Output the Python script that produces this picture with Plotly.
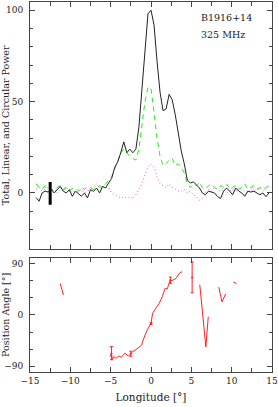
import numpy as np
import plotly.graph_objects as go
from plotly.subplots import make_subplots

# ---------------- data ----------------
lon = [-14.25 + 0.375 * k for k in range(78)]  # longitude grid [deg]

total = [-2.5, -4.5, 0, 1, 0.5, 2, 0, 1.8, 3.6, 1, 0, 1.8, -1.8, 1, -0.5, -1.8,
         0, -2.7, 1.8, 0.9, 2.7, 0, 3.6, 2.7, 5.5, 8, 14, 17, 22, 28, 22, 24,
         22, 24, 36, 57, 80, 98, 100, 92, 72, 55, 45, 46, 54, 51, 43, 32,
         23, 16, 7, 5.5, 6, 4.5, 2.7, 0, -1, 1, 0.5, 0, -2, -3, 1, 2.7,
         1, -1, 2.7, 1, 0, -1.8, 1, 0.5, 1, 0, -1, 0, -2, 0]

linear = [5, 3, 2, 4, 3, 2, 1, 3, 4, 2, 3, 1, 2.5, 3, 1, 3,
          2, 3.5, 3, 2, 3, 4, 3, 5, 7, 9, 13, 18, 22, 24, 22, 20,
          19, 18, 24, 36, 50, 58, 57, 44, 30, 20, 15, 16, 18, 19, 15, 16,
          14, 11, 5, 3, 5, 4, 6, 3, 2, 4, 5, 3, 2, 4, 3, 5,
          2, 3, 4, 2, 3, 5, 2, 3, 4, 2, 3, 2, 3, 4]

circular = [2, 3, 1, 2, 3, 1, 2, 0, 2, 1, 3, 1, 2, 0, 1, 2,
            0, 1, 3, 2, 5, 3, 2, 4, 3, 0, -1, -2, -3, -2, -3, -2,
            -3, -1, 2, 5, 10, 14, 16, 14, 9, 5, 4, 3, 5, 3, 2, 1,
            1, 2, 0, 1, -1, -2, -4, -3, 0, 2, 1, 3, 2, 1, 2, 0,
            1, 2, 1, 3, 2, 1, 0, 2, 1, 2, 3, 1, 2, 3]

# position angle (None separates unconnected segments)
pa_lon = [-11.25, -10.85, None,
          -5.1, -4.9, -4.8, -4.6, -4.33, -4.0, -3.67, -3.25, -2.8, -2.5, -2.25,
          -1.9, -1.5, -1.17, -0.9, -0.46, 0.0, 0.2, 0.6, 1.0, 1.4, 1.75, 2.0,
          2.35, 2.7, 3.1, 3.5, 3.85, None,
          6.05, 6.8, 7.1, None,
          8.4, 8.8, 9.25, None,
          10.2, 10.6]
pa = [55, 35, None,
      -73, -67, -78, -73, -76, -72, -74, -67, -72, -67, -64,
      -61, -56, -53, -41, -26, -15, 3, 12, 20, 32, 47, 45,
      60, 61, 64, 73, 76, None,
      53, -56, -3, None,
      49, 23, 37, None,
      58, 55]

err_lon = [-4.9, -2.5, 0.0, 2.4, 5.1]
err_pa = [-67, -68, -15, 61, 66]
err_size = [11.5, 4.5, 1.5, 5.5, 27]

bar_lon = [-12.5, -12.5]
bar_val = [-6.5, 6]

# ---------------- figure ----------------
FONT = "DejaVu Serif"
AX = "#444444"
TXT = "#222222"
fig = make_subplots(rows=2, cols=1, shared_xaxes=False, vertical_spacing=0.0)

fig.add_trace(go.Scatter(x=lon, y=circular, mode="lines",
                         line=dict(color="#ff44ff", width=1, dash="1px,2.5px")), 1, 1)
fig.add_trace(go.Scatter(x=lon, y=linear, mode="lines",
                         line=dict(color="#22ee22", width=1, dash="5px,4px")), 1, 1)
fig.add_trace(go.Scatter(x=lon, y=total, mode="lines",
                         line=dict(color="#222222", width=1)), 1, 1)
fig.add_trace(go.Scatter(x=bar_lon, y=bar_val, mode="lines",
                         line=dict(color="black", width=3)), 1, 1)

fig.add_trace(go.Scatter(x=pa_lon, y=pa, mode="lines",
                         line=dict(color="#ff2222", width=1)), 2, 1)
fig.add_trace(go.Scatter(x=err_lon, y=err_pa, mode="markers",
                         marker=dict(size=2, color="#ff2222"),
                         error_y=dict(type="data", array=err_size, visible=True,
                                      color="#ff2222", thickness=1, width=1.5)), 2, 1)

fig.update_layout(
    width=278, height=407,
    margin=dict(l=30, r=6, t=2, b=35),
    paper_bgcolor="white", plot_bgcolor="white",
    showlegend=False,
    font=dict(family=FONT, size=9, color=TXT),
)

xcommon = dict(range=[-15, 15], dtick=5, tick0=0, ticks="inside", ticklen=5,
               tickcolor=AX, showline=True, linecolor=AX, linewidth=1,
               mirror="ticks", showgrid=False, zeroline=False, automargin=False,
               minor=dict(dtick=2.5, ticks="inside", ticklen=4, tickcolor=AX))
fig.update_xaxes(**xcommon, showticklabels=False, row=1, col=1)
fig.update_xaxes(**xcommon, showticklabels=True, row=2, col=1,
                 tickfont=dict(family=FONT, size=9, color=TXT),
                 title=dict(text="Longitude [°]", standoff=8,
                            font=dict(family=FONT, size=10.5)))

ycommon = dict(ticks="inside", ticklen=5, tickcolor=AX, showline=True,
               linecolor=AX, linewidth=1, mirror="ticks", showgrid=False,
               zeroline=False, ticklabelstandoff=4, automargin=False)
fig.update_yaxes(**ycommon, range=[-30.5, 104.5], tickvals=[0, 50, 100],
                 minor=dict(dtick=10, tick0=0, ticks="inside", ticklen=3,
                            tickcolor=AX),
                 title=dict(text="Total, Linear, and Circular Power", standoff=6,
                            font=dict(family=FONT, size=9.5)),
                 row=1, col=1)
fig.update_yaxes(**ycommon, range=[-100, 100.5], tickvals=[-90, 0, 90],
                 minor=dict(dtick=30, tick0=0, ticks="inside", ticklen=3,
                            tickcolor=AX),
                 title=dict(text="Position Angle [°]", standoff=6,
                            font=dict(family=FONT, size=9.5)),
                 row=2, col=1)

fig.layout.yaxis.domain = [0.3332, 1.0]
fig.layout.yaxis2.domain = [0.0, 0.3089]

fig.add_annotation(text="B1916+14", xref="paper", yref="paper", x=0.698, y=0.957,
                   xanchor="left", yanchor="middle", showarrow=False,
                   font=dict(family=FONT, size=9.5, color=TXT))
fig.add_annotation(text="325 MHz", xref="paper", yref="paper", x=0.698, y=0.9135,
                   xanchor="left", yanchor="middle", showarrow=False,
                   font=dict(family=FONT, size=9.5, color=TXT))

fig.write_html("out.html",
               config={"displayModeBar": False},
               post_script="document.body.style.margin='0';"
                           "document.body.style.padding='0';"
                           "document.body.style.overflow='hidden';")
